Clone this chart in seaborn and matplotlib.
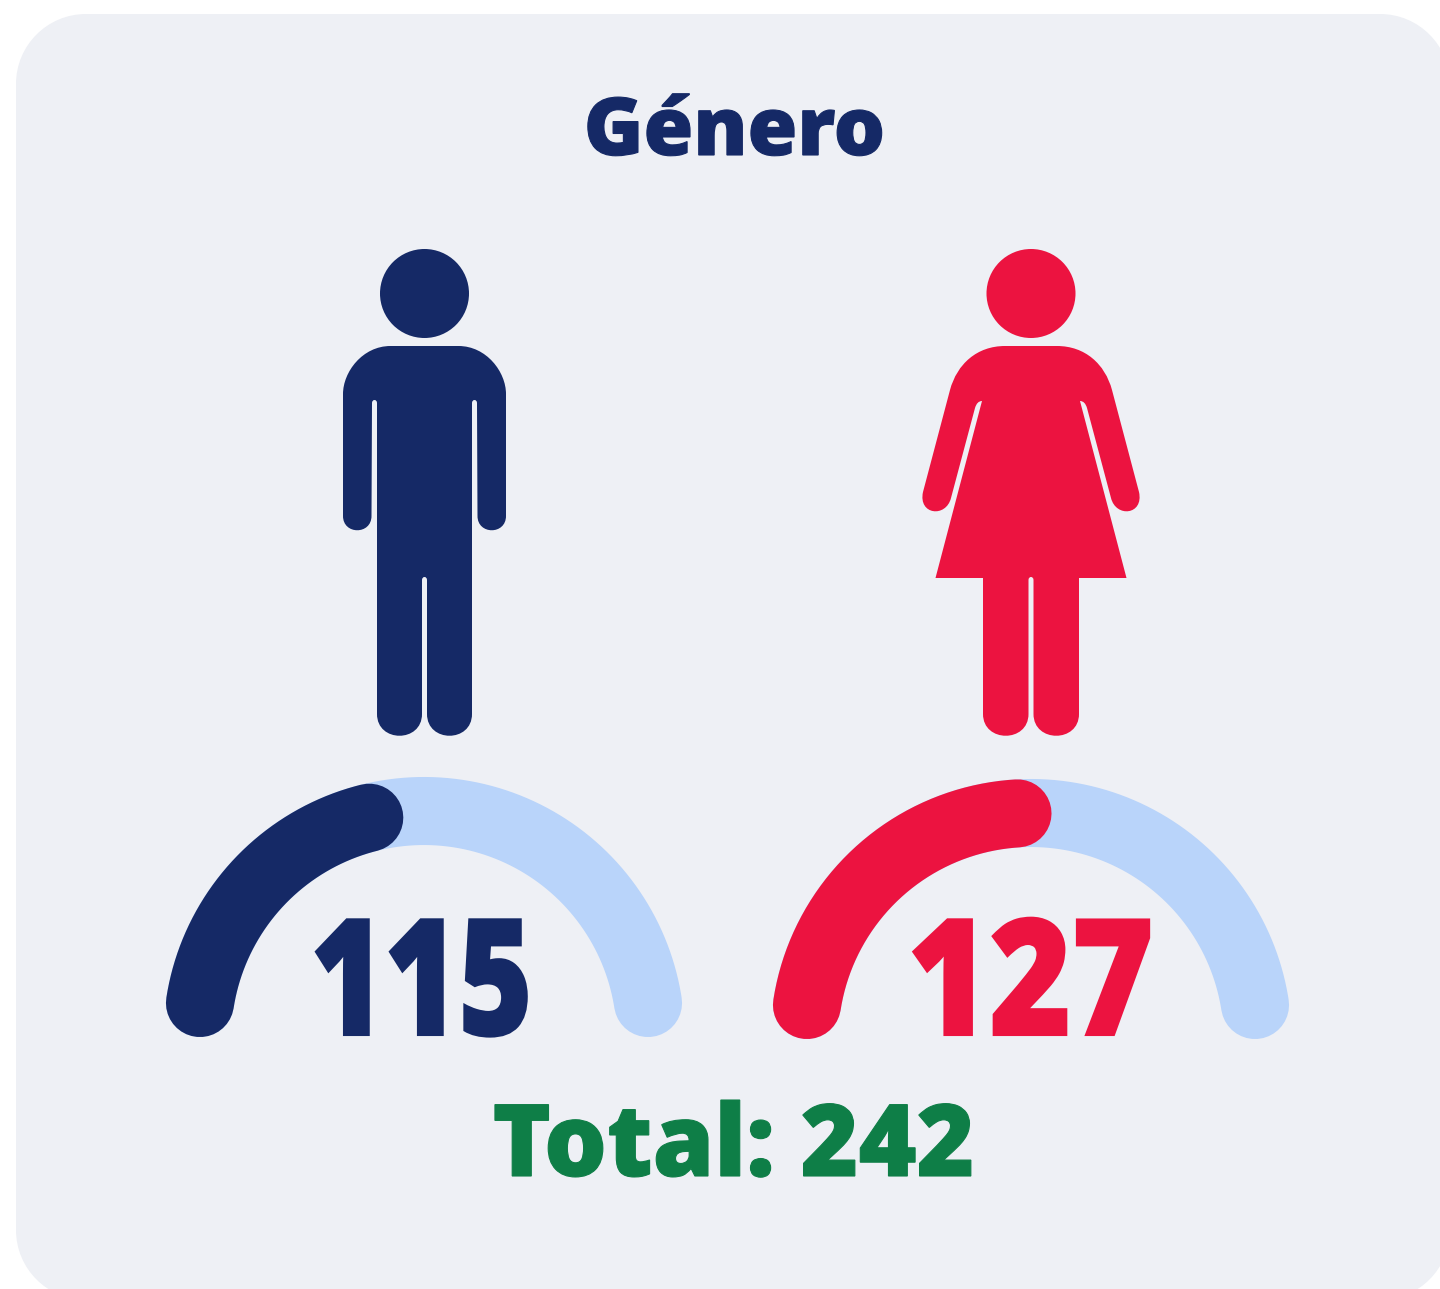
import numpy as np
import matplotlib
matplotlib.use("Agg")
import matplotlib.pyplot as plt
import seaborn as sns
from matplotlib.font_manager import FontProperties
from matplotlib.patches import Circle, PathPatch
from matplotlib.patheffects import AbstractPathEffect
from matplotlib.path import Path
from matplotlib.textpath import TextPath
from matplotlib.transforms import Affine2D

# data
title = "Género"
counts = [115, 127]
gauge_fill = [0.414, 0.479]
total_label = "Total: 242"

NAVY = "#152966"
RED = "#EC1340"
LIGHT = "#B9D4FA"
GREEN = "#0E7E47"
CARD = "#EEF0F5"

sns.set_theme(style="white")
plt.rcParams["font.family"] = ["Open Sans", "DejaVu Sans"]

fig, ax = plt.subplots(figsize=(14.4, 12.89), dpi=100)
fig.subplots_adjust(0, 0, 1, 1)
ax.set_xlim(0, 1440)
ax.set_ylim(1289, 0)


class Squeeze(AbstractPathEffect):
    """
    Narrows a text around cx and fattens it, the reference lettering is tighter and heavier than the font
    """

    def __init__(self, sx, cx, stroke):
        super().__init__()
        self.sx = sx
        self.cx = cx
        self.stroke = stroke

    def draw_path(self, renderer, gc, tpath, affine, rgbFace=None):
        squeezed = affine + Affine2D().translate(-self.cx, 0).scale(self.sx, 1).translate(self.cx, 0)
        gc0 = renderer.new_gc()
        gc0.copy_properties(gc)
        gc0.set_linewidth(self.stroke)
        gc0.set_foreground(rgbFace)
        gc0.set_joinstyle("miter")
        renderer.draw_path(gc0, tpath, squeezed, rgbFace)
        gc0.restore()


def tight_text(cx, y, label, size_px, ink_width, stroke, color):
    prop = FontProperties(family="Open Sans", weight=800, size=size_px * 0.72)
    natural = TextPath((0, 0), label, size=size_px, prop=prop).get_extents().width
    sx = (ink_width - stroke * 100 / 72) / natural
    ax.text(cx, y, label, fontproperties=prop, color=color, ha="center", va="baseline", zorder=3,
            path_effects=[Squeeze(sx, cx, stroke)])


def symmetric_path(start, segments, cx):
    """
    Builds a closed path from the right half of a figure and its mirror image
    """
    points = [start]
    sizes = []
    for seg in segments:
        points.extend(seg)
        sizes.append(len(seg))
    mirrored = [(2 * cx - x, y) for x, y in reversed(points)]
    code_for = {1: Path.LINETO, 2: Path.CURVE3, 3: Path.CURVE4}
    codes = [Path.MOVETO]
    for size in sizes + sizes[::-1]:
        codes.extend([code_for[size]] * size)
    return Path(points + mirrored[1:] + [start], codes + [Path.CLOSEPOLY])


def male_icon(cx, color):
    half = [
        [(cx + 34, 346)],
        [(cx + 62, 346), (cx + 81.5, 372), (cx + 81.5, 394)],
        [(cx + 81.5, 516)],
        [(cx + 81.5, 535), (cx + 53, 535), (cx + 53, 516)],
        [(cx + 52.5, 403)],
        [(cx + 52.5, 400), (cx + 50, 400)],
        [(cx + 47.5, 400), (cx + 47.5, 403)],
        [(cx + 47.5, 714)],
        [(cx + 47.5, 743), (cx + 2.5, 743), (cx + 2.5, 714)],
        [(cx + 2.5, 580)],
        [(cx + 2.5, 577), (cx, 577)],
    ]
    ax.add_patch(PathPatch(symmetric_path((cx, 346), half, cx), fc=color, ec="none"))
    ax.add_patch(Circle((cx, 293.5), 44.5, fc=color, ec="none"))


def female_icon(cx, color):
    half = [
        [(cx + 26, 346)],
        [(cx + 54, 346), (cx + 74, 364), (cx + 81, 390)],
        [(cx + 108, 492)],
        [(cx + 113, 515), (cx + 85, 518), (cx + 80, 498)],
        [(cx + 56, 408)],
        [(cx + 54, 401), (cx + 49, 401)],
        [(cx + 95.5, 578)],
        [(cx + 48, 578)],
        [(cx + 48, 714)],
        [(cx + 48, 743), (cx + 2.5, 743), (cx + 2.5, 714)],
        [(cx + 2.5, 580)],
        [(cx + 2.5, 577), (cx, 577)],
    ]
    ax.add_patch(PathPatch(symmetric_path((cx, 346), half, cx), fc=color, ec="none"))
    ax.add_patch(Circle((cx, 293.5), 44.5, fc=color, ec="none"))


def gauge(cx, cy, fill, color):
    """
    Draws the pale track and the filled share of it on top
    """
    radius = 226.7
    start, end = 171.2, 8.8
    for share, col in [(1, LIGHT), (fill, color)]:
        angles = np.radians(np.linspace(start, start + (end - start) * share, 200))
        sns.lineplot(x=cx + radius * np.cos(angles), y=cy - radius * np.sin(angles),
                     sort=False, estimator=None, color=col, linewidth=49,
                     solid_capstyle="round", ax=ax, zorder=2)


def card(left, top, right, bottom, r):
    k = r * 0.4477
    verts = [(left + r, top), (right - r, top),
             (right - k, top), (right, top + k), (right, top + r), (right, bottom - r),
             (right, bottom - k), (right - k, bottom), (right - r, bottom), (left + r, bottom),
             (left + k, bottom), (left, bottom - k), (left, bottom - r), (left, top + r),
             (left, top + k), (left + k, top), (left + r, top), (left + r, top)]
    codes = [Path.MOVETO, Path.LINETO]
    for _ in range(3):
        codes += [Path.CURVE4] * 3 + [Path.LINETO]
    codes += [Path.CURVE4] * 3 + [Path.CLOSEPOLY]
    ax.add_patch(PathPatch(Path(verts, codes), fc=CARD, ec="none", zorder=0))


# the card runs off the right and bottom edge of the picture
card(16, 14, 1450, 1300, 70)

male_icon(424.5, NAVY)
female_icon(1031, RED)
gauge(424, 1037.7, gauge_fill[0], NAVY)
gauge(1031, 1039.7, gauge_fill[1], RED)

tight_text(734.5, 155, title, 80, 295, 0.8, NAVY)
tight_text(421.5, 1035, str(counts[0]), 162, 213, 1.5, NAVY)
tight_text(1030.5, 1035, str(counts[1]), 162, 238, 1.5, RED)
tight_text(733.5, 1176, total_label, 100, 477, 0.8, GREEN)

ax.axis("off")
fig.savefig("out.png", dpi=100, facecolor="white")
